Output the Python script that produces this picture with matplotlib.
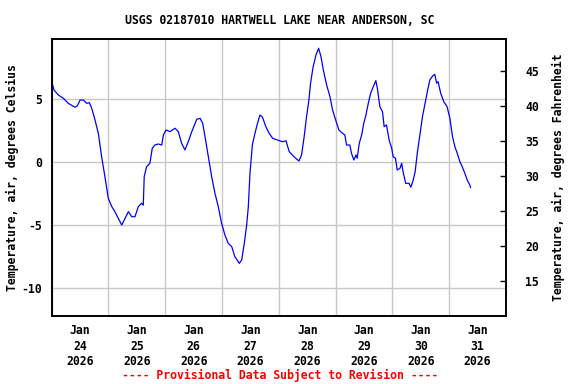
import matplotlib
matplotlib.use('Agg')
import matplotlib.pyplot as plt
import matplotlib.dates as mdates
from datetime import datetime, timedelta

# hours since Jan 24 2026 00:00, air temperature in deg C
hours = [0, 1.0, 2.8, 4.9, 7.0, 9.8, 10.8, 12.0, 13.4, 14.8, 15.9, 16.9, 18.3, 19.7,
         21.1, 22.5, 23.9, 25.4, 26.7, 28.1, 29.6, 31.0, 32.4, 33.8, 35.2, 36.6,
         38.0, 38.7, 39.1, 40.1, 41.5, 42.5, 43.6, 45.0, 46.5, 47.2, 48.3, 50.0,
         52.1, 53.5, 54.9, 56.3, 57.7, 59.2, 61.3, 62.7, 63.8, 64.8, 66.2, 67.6,
         69.0, 70.4, 71.8, 73.2, 74.6, 76.1, 77.4, 79.3, 80.3, 81.4, 82.4, 83.1,
         83.8, 84.8, 85.9, 87.0, 88.0, 89.1, 90.5, 91.9, 93.4, 95.3, 97.6, 99.0,
         100.4, 102.4, 104.5, 105.6, 106.7, 107.7, 108.7, 109.4, 110.5, 111.7,
         112.8, 113.8, 114.8, 116.2, 117.6, 118.7, 120.0, 121.4, 122.9, 123.9,
         124.6, 126.0, 126.7, 127.7, 128.6, 129.1, 130.0, 131.0, 131.9, 132.8,
         133.8, 134.8, 135.9, 137.0, 137.7, 138.7, 139.8, 140.5, 141.5, 142.6,
         143.7, 144.3, 145.3, 146.0, 147.2, 147.9, 148.5, 149.6, 151.0, 151.8,
         152.8, 153.6, 154.5, 155.6, 156.7, 157.8, 158.9, 159.8, 161.0, 161.9,
         162.7, 163.3, 164.4, 165.7, 167.1, 168.3, 169.4, 170.4, 171.4, 172.5,
         173.5, 174.6, 175.6, 176.7, 177.0]
temp_c = [6.4, 5.73, 5.34, 5.08, 4.68, 4.37, 4.47, 4.94, 4.94, 4.68, 4.73, 4.29, 3.36, 2.30,
          0.44, -1.14, -2.86, -3.52, -3.92, -4.44, -4.98, -4.44, -3.92, -4.32, -4.32, -3.52,
          -3.25, -3.4, -1.14, -0.35, -0.08, 1.11, 1.37, 1.45, 1.37, 2.17, 2.56, 2.43,
          2.70, 2.43, 1.51, 0.98, 1.63, 2.43, 3.41, 3.49, 3.10, 2.03, 0.44, -1.14,
          -2.46, -3.52, -4.84, -5.77, -6.43, -6.70, -7.49, -8.02, -7.75, -6.43, -4.98, -3.52,
          -0.87, 1.37, 2.30, 3.10, 3.75, 3.57, 2.83, 2.30, 1.90, 1.77, 1.63, 1.71,
          0.84, 0.44, 0.10, 0.58, 2.03, 3.62, 4.94, 6.27, 7.59, 8.52,
          9.05, 8.38, 7.33, 6.13, 5.21, 4.15, 3.36, 2.56, 2.30, 2.17,
          1.37, 1.37, 0.71, 0.18, 0.58, 0.32, 1.51, 2.17, 3.10, 3.75,
          4.68, 5.48, 6.0, 6.48, 5.79, 4.41, 4.02, 2.83, 2.96, 1.77,
          1.11, 0.44, 0.32, -0.61, -0.48, -0.08, -0.75, -1.67, -1.67, -1.98,
          -1.40, -0.75, 0.71, 2.17, 3.62, 4.68, 5.74, 6.53, 6.85, 6.98,
          6.27, 6.40, 5.48, 4.81, 4.41, 3.49, 2.03, 1.24, 0.71, 0.05,
          -0.35, -0.87, -1.40, -1.80, -2.0]

start = datetime(2026, 1, 24)
times = [start + timedelta(hours=h) for h in hours]
days = [start + timedelta(days=i) for i in range(9)]
noons = [d + timedelta(hours=12) for d in days[:8]]
day_labels = ['Jan\n%d\n2026' % d.day for d in noons]
f_ticks = [15, 20, 25, 30, 35, 40, 45]
c_ticks = [-10, -5, 0, 5]
ylim_c = (-12.2, 9.76)

font = 'DejaVu Sans Mono'
fs = 8.3

fig = plt.figure(figsize=(5.76, 3.84), dpi=100)
ax = fig.add_axes([51.7/576, 1-316/384, (506-51.7)/576, (316-39.3)/384])
ax.plot(times, temp_c, color='blue', lw=0.9)

ax.set_xlim(days[0], days[-1])
ax.set_ylim(*ylim_c)
ax.set_xticks(noons)
ax.set_xticklabels(day_labels, fontfamily=font, fontweight='bold', fontsize=fs, linespacing=1.22)
ax.set_xticks(days, minor=True)
ax.tick_params(axis='x', which='both', length=0, pad=6)
ax.grid(True, which='minor', axis='x', color='#c8c8c8', lw=1)
ax.set_yticks(c_ticks)
ax.set_yticklabels([str(v) for v in c_ticks], fontfamily=font, fontweight='bold', fontsize=fs)
ax.tick_params(axis='y', length=0, pad=7)
ax.grid(True, which='major', axis='y', color='#c8c8c8', lw=1)
ax.set_axisbelow(True)
for s in ax.spines.values():
    s.set_linewidth(1.2)

ax2 = ax.twinx()
ax2.set_ylim(ylim_c[0]*9/5+32, ylim_c[1]*9/5+32)
ax2.set_yticks(f_ticks)
ax2.set_yticklabels([str(v) for v in f_ticks], fontfamily=font, fontweight='bold', fontsize=fs)
ax2.tick_params(axis='y', direction='in', length=4, width=1, pad=14)
for s in ax2.spines.values():
    s.set_linewidth(1.2)

ymid = 1 - (39.3 + 316) / 2 / 384
fig.text(12/576, ymid, 'Temperature, air, degrees Celsius', rotation=90, ha='center', va='center',
         fontfamily=font, fontweight='bold', fontsize=fs)
fig.text(558/576, ymid, 'Temperature, air, degrees Fahrenheit', rotation=90, ha='center', va='center',
         fontfamily=font, fontweight='bold', fontsize=fs)
fig.text(0.486, 1-20/384, 'USGS 02187010 HARTWELL LAKE NEAR ANDERSON, SC', ha='center', va='center',
         fontfamily=font, fontweight='bold', fontsize=fs)
fig.text(0.486, 1-375/384, '---- Provisional Data Subject to Revision ----', ha='center', va='center',
         fontfamily=font, fontweight='bold', fontsize=fs, color='red')

fig.savefig('out.png', dpi=100)
